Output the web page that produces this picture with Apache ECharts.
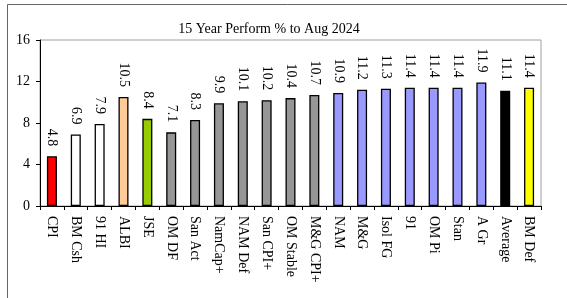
<!DOCTYPE html>
<html>
<head>
    <meta charset="utf-8">
    <title>15 Year Perform</title>
    <script src="https://cdn.jsdelivr.net/npm/echarts@6/dist/echarts.min.js"></script>
    <style>
        html, body { margin: 0; padding: 0; background: #fff; }
        #main { width: 567px; height: 298px; }
    </style>
</head>
<body>
<div id="main"></div>
<script type="text/javascript">
    // data
    var categories = ['CPI', 'BM Csh', '91 HI', 'ALBI', 'JSE', 'OM DF', 'San Act', 'NamCap+', 'NAM Def', 'San CPI+',
        'OM Stable', 'M&G CPI+', 'NAM', 'M&G', 'Isol FG', '91', 'OM Pi', 'Stan', 'A Gr', 'Average', 'BM Def'];
    var values = [4.8, 6.9, 7.9, 10.5, 8.4, 7.1, 8.3, 9.9, 10.1, 10.2,
        10.4, 10.7, 10.9, 11.2, 11.3, 11.4, 11.4, 11.4, 11.9, 11.1, 11.4];
    var barColors = ['#ff0000', '#ffffff', '#ffffff', '#ffcc99', '#99cc00', '#969696', '#969696', '#969696', '#969696', '#969696',
        '#969696', '#969696', '#9999ff', '#9999ff', '#9999ff', '#9999ff', '#9999ff', '#9999ff', '#9999ff', '#000000', '#ffff00'];
    var yTicks = [0, 4, 8, 12, 16];

    var font = '"Liberation Serif", "Times New Roman", serif';

    var myChart = echarts.init(document.getElementById('main'));

    var option = {
        backgroundColor: '#ffffff',
        animation: false,
        title: {
            text: '15 Year Perform % to Aug 2024',
            left: 264,
            textAlign: 'center',
            top: 17,
            textStyle: { fontFamily: font, fontSize: 14, fontWeight: 'normal', color: '#000' }
        },
        // outer frame
        graphic: [{
            type: 'rect',
            shape: { x: 7.5, y: 4.5, width: 620, height: 400 },
            style: { fill: null, stroke: '#666', lineWidth: 1 },
            silent: true
        }],
        grid: {
            left: 40,
            right: 26,
            top: 40,
            bottom: 92,
            show: true,
            borderColor: '#a0a0a0',
            borderWidth: 1
        },
        xAxis: {
            type: 'category',
            data: categories,
            axisLine: { lineStyle: { color: '#000', width: 1 } },
            axisTick: { show: true, inside: false, length: 4, lineStyle: { color: '#000' } },
            axisLabel: {
                rotate: -90,
                interval: 0,
                margin: 10,
                fontFamily: font,
                fontSize: 14,
                color: '#000'
            }
        },
        yAxis: {
            type: 'value',
            min: yTicks[0],
            max: yTicks[yTicks.length - 1],
            interval: 4,
            splitLine: { show: false },
            axisLine: { show: true, lineStyle: { color: '#000', width: 1 } },
            axisTick: { show: true, length: 4, lineStyle: { color: '#000' } },
            axisLabel: { margin: 10, fontFamily: font, fontSize: 14, color: '#000' }
        },
        series: [{
            type: 'bar',
            barWidth: '42%',
            data: values.map(function (v, i) {
                return { value: v, itemStyle: { color: barColors[i] } };
            }),
            itemStyle: { borderColor: '#000', borderWidth: 1.3 },
            label: {
                show: true,
                position: 'top',
                distance: 10,
                rotate: -90,
                align: 'right',
                verticalAlign: 'middle',
                fontFamily: font,
                fontSize: 14,
                color: '#000',
                formatter: function (p) { return p.value.toFixed(1); }
            }
        }]
    };

    myChart.setOption(option);
</script>
</body>
</html>
